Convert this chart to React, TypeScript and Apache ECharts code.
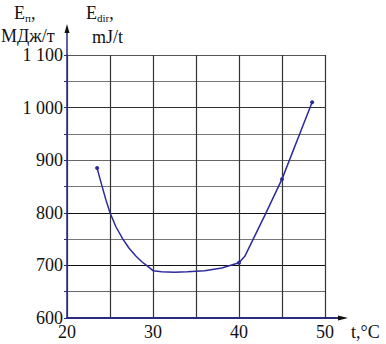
import React, { useEffect, useRef } from "react";
import * as echarts from "echarts";

const temps = [23.5, 24, 24.5, 25, 25.7, 26.5, 27.2, 28, 28.7, 29.4, 30, 31, 32.5, 34, 36, 38, 40, 40.7, 43, 45, 48.5];
const energies = [885, 855, 826, 800, 773, 750, 733, 718, 707, 698, 690, 688, 687, 688, 690, 695, 705, 718, 795, 864, 1010];
const markedTemps = [23.5, 40, 45, 48.5];
const xTicks = [20, 30, 40, 50];
const yLabels: Record<number, string> = { 600: "600", 700: "700", 800: "800", 900: "900", 1000: "1 000", 1100: "1 100" };

const SERIF = "'Liberation Serif', 'Times New Roman', serif";
const LINE = "#2b2b9c";

export default function App() {
  const ref = useRef<HTMLDivElement>(null);
  useEffect(() => {
    if (!ref.current) return;
    const chart = echarts.init(ref.current, null, { renderer: "svg" });
    const hGridColors = ["#555", "#666", "#111", "#777", "#111", "#777", "#666", "#777", "#333", "#777", "#555"];
    const labelRich = { a: { fontFamily: SERIF, fontSize: 18, color: "#111" } };
    chart.setOption({
      animation: false,
      backgroundColor: "#fff",
      textStyle: { fontFamily: SERIF },
      grid: { left: 67, right: 61, top: 55, bottom: 26 },
      xAxis: {
        type: "value",
        min: 20,
        max: 50,
        interval: 5,
        axisLine: { show: true, lineStyle: { color: "#2b2b80", width: 2 } },
        axisTick: { show: false },
        axisLabel: {
          margin: 5,
          fontFamily: SERIF,
          fontSize: 18,
          color: "#111",
          rich: labelRich,
          formatter: (v: number) => (xTicks.includes(v) ? `{a|${v}}` : ""),
        },
        splitLine: { show: true, lineStyle: { color: "#333", width: 1.2 } },
      },
      yAxis: {
        type: "value",
        min: 600,
        max: 1100,
        interval: 50,
        axisLine: { show: true, lineStyle: { color: "#2b2b80", width: 1.5 } },
        axisTick: { show: true, length: 3, lineStyle: { color: "#2b2b80", width: 1 } },
        axisLabel: {
          margin: 4,
          fontFamily: SERIF,
          fontSize: 18,
          color: "#111",
          rich: labelRich,
          formatter: (v: number) => (yLabels[v] ? `{a|${yLabels[v]}}` : ""),
        },
        splitLine: { show: true, lineStyle: { color: hGridColors, width: 1.2 } },
      },
      graphic: [
        { type: "line", shape: { x1: 67, y1: 55, x2: 67, y2: 30 }, style: { stroke: "#2b2b80", lineWidth: 1.5 } },
        { type: "polygon", shape: { points: [[67, 24], [64.5, 33], [69.5, 33]] }, style: { fill: "#111" } },
        { type: "line", shape: { x1: 325, y1: 318, x2: 340, y2: 318 }, style: { stroke: "#2b2b80", lineWidth: 2 } },
        { type: "polygon", shape: { points: [[348, 318], [338, 315.5], [338, 320.5]] }, style: { fill: "#111" } },
        {
          type: "text", x: 14, y: 2,
          style: { text: "{e|E}{s|п}{e|,}", rich: { e: { fontFamily: SERIF, fontSize: 18, fill: "#111" }, s: { fontFamily: SERIF, fontSize: 11, fill: "#111", padding: [10, 0, 0, 0] } } },
        },
        { type: "text", x: 1, y: 27, style: { text: "МДж/т", fontFamily: SERIF, fontSize: 18, fill: "#111" } },
        {
          type: "text", x: 86, y: 2,
          style: { text: "{e|E}{s|dir}{e|,}", rich: { e: { fontFamily: SERIF, fontSize: 18, fill: "#111" }, s: { fontFamily: SERIF, fontSize: 11, fill: "#111", padding: [10, 0, 0, 0] } } },
        },
        { type: "text", x: 92, y: 28, style: { text: "mJ/t", fontFamily: SERIF, fontSize: 18, fill: "#111" } },
        { type: "text", x: 351, y: 323, style: { text: "t,°C", fontFamily: SERIF, fontSize: 18, fill: "#111" } },
      ],
      series: [
        {
          type: "line",
          smooth: false,
          lineStyle: { color: LINE, width: 1.5 },
          itemStyle: { color: LINE },
          symbolSize: 4,
          data: temps.map((t, i) => ({
            value: [t, energies[i]],
            symbol: markedTemps.includes(t) ? "circle" : "none",
          })),
        },
      ],
    });
    return () => chart.dispose();
  }, []);
  return <div ref={ref} style={{ width: 386, height: 344, position: "absolute", left: 0, top: 0 }} />;
}
